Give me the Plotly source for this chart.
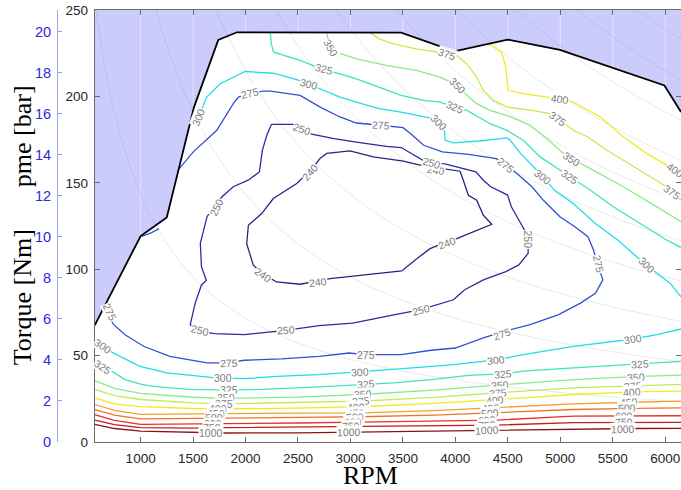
import numpy as np
import plotly.graph_objects as go

# ---------------- axes / ticks ----------------
rpm_range = [562, 6151]
torque_range = [0, 250]
x_ticks = [1000, 1500, 2000, 2500, 3000, 3500, 4000, 4500, 5000, 5500, 6000]
y_ticks = [0, 50, 100, 150, 200, 250]
pme_ticks = [0, 2, 4, 6, 8, 10, 12, 14, 16, 18, 20]
displacement_l = 1.492          # engine displacement used for pme axis
power_levels_kw = [15, 30, 45, 60, 75, 90, 105, 120, 135, 150]

# ---------------- full-load (max torque) curve ----------------
max_rpm = [562, 1000, 1249, 1509, 1740, 1918, 3484, 3990, 4498, 4997, 5993, 6151]
max_nm = [67.5, 119.2, 130.0, 193.8, 232.7, 237.1, 236.9, 226.1, 232.9, 226.9, 206.3, 191.0]

# ---------------- BSFC contours [g/kWh] ----------------
c240_rpm = [2710, 2774, 2996, 3218, 3504, 3664, 3850, 4045, 4076, 4124, 4204, 4267, 4347, 4013, 3880, 3759,
            3632, 3489, 2806, 2650, 2520, 2297, 2170, 2074, 2011, 2027, 2154, 2265, 2488, 2580, 2663, 2710]
c240_nm = [164.1, 167.0, 168.5, 165.0, 162.5, 160.2, 158.5, 156.7, 151.5, 142.8, 139.9, 131.2, 126.0, 117.7, 115.0, 111.9,
           106.1, 99.0, 94.6, 93.0, 91.3, 92.6, 97.0, 102.3, 114.8, 125.4, 132.2, 140.9, 149.6, 155.0, 160.2, 164.1]

c250_rpm = [2246, 2452, 2630, 2844, 3057, 3342, 3484, 3609, 3716, 3911, 4196, 4267, 4338, 4498, 4534, 4605, 4659,
            4694, 4694, 4605, 4481, 4267, 4089, 3982, 3876, 3662, 3413, 3022, 2701, 2381, 1989, 1705, 1562, 1473,
            1520, 1580, 1626, 1580, 1569, 1633, 1698, 1776, 1883, 2025, 2132, 2160, 2203, 2246]
c250_nm = [183.8, 183.8, 178.1, 175.6, 173.6, 171.1, 170.4, 165.9, 162.1, 160.8, 156.3, 151.5, 147.7, 142.9, 136.1,
           128.5, 122.7, 115.0, 109.2, 102.5, 98.6, 93.8, 88.1, 82.3, 80.4, 76.5, 73.6, 68.8, 67.3, 64.6, 62.1, 62.7,
           64.0, 67.9, 80.4, 90.9, 93.5, 101.5, 115.0, 130.4, 136.1, 141.9, 147.7, 151.5, 156.3, 168.8, 177.5, 183.8]

c275_rpm = [1356, 1502, 1726, 1883, 1932, 2043, 2171, 2239, 2520, 2712, 2900, 3057, 3288, 3413, 3502, 3591, 3698,
            3876, 4125, 4392, 4481, 4587, 4730, 4837, 4997, 5139, 5264, 5317, 5353, 5406, 5335, 5193, 4979, 4712,
            4463, 4267, 4000, 3769, 3484, 3146, 2986, 2701, 2345, 1989, 1829, 1633, 1278, 1028, 851, 744, 644]
c275_nm = [157.3, 167.9, 180.4, 195.8, 199.6, 201.8, 203.1, 203.1, 200.6, 193.8, 188.1, 184.6, 183.3, 182.3, 181.9,
           177.5, 171.7, 167.9, 166.5, 164.0, 160.2, 155.4, 147.7, 140.0, 130.4, 124.6, 118.8, 111.1, 103.5, 93.8,
           86.1, 80.4, 73.6, 67.9, 64.0, 60.2, 54.4, 53.1, 50.6, 50.6, 51.5, 49.6, 48.1, 47.3, 45.8, 45.8, 49.6,
           55.4, 62.1, 67.9, 77.1]
c275b_rpm = [1010, 1100, 1175]
c275b_nm = [119.0, 121.0, 123.5]

c300a_rpm = [1470, 1584, 1630, 1758, 1996, 2267, 2520, 2712, 2901, 3057, 3271, 3484, 3698, 3787, 3894, 3904, 3982,
             4232, 4492, 4523, 4623, 4744, 4837, 4943, 5121, 5335, 5548, 5691, 5798, 5922, 6047, 6151]
c300a_nm = [184.0, 192.9, 199.6, 207.3, 214.4, 213.4, 209.2, 204.4, 199.6, 196.7, 192.9, 190.9, 188.4, 187.1, 180.4,
            174.6, 173.1, 174.2, 176.0, 174.6, 166.9, 159.2, 153.5, 145.8, 138.1, 126.5, 116.9, 109.2, 103.5, 97.7,
            91.9, 84.0]
c300b_rpm = [562, 644, 772, 993, 1249, 1690, 1989, 2345, 2701, 3057, 3591, 3982, 4410, 4648, 5125, 5698, 5922, 6151]
c300b_nm = [57.8, 54.6, 50.6, 43.8, 40.0, 37.3, 36.7, 38.1, 39.0, 40.4, 42.9, 44.8, 47.7, 50.6, 55.4, 59.6, 62.1, 65.4]

c325a_rpm = [2235, 2246, 2267, 2520, 2747, 2901, 3057, 3271, 3484, 3698, 3854, 3996, 4111, 4331, 4492, 4648, 4808,
             5000, 5096, 5285, 5505, 5762, 6015, 6151]
c325a_nm = [237.0, 230.4, 225.6, 220.8, 215.4, 213.1, 210.2, 205.4, 200.6, 197.7, 196.7, 193.8, 191.9, 184.2, 180.4,
            174.6, 165.0, 157.3, 153.5, 145.8, 136.1, 126.5, 116.9, 112.5]
c325b_rpm = [562, 677, 851, 1000, 1100, 1456, 1840, 2167, 2701, 3146, 3413, 3769, 4125, 4459, 4648, 5125, 5762, 6151]
c325b_nm = [44.8, 42.9, 36.1, 33.5, 32.3, 30.4, 30.0, 30.4, 31.9, 33.3, 34.2, 36.1, 38.5, 39.4, 41.0, 42.9, 45.4, 46.7]

c350a_rpm = [2772, 2790, 2840, 2915, 3057, 3342, 3627, 3854, 4029, 4111, 4203, 4331, 4516, 4712, 4890, 5015, 5111,
             5253, 5602, 5922, 6151]
c350a_nm = [236.9, 232.3, 227.0, 224.6, 221.7, 217.9, 215.0, 211.1, 206.3, 200.6, 195.8, 191.9, 188.4, 183.3, 174.6,
            167.9, 164.0, 159.2, 147.7, 136.1, 127.5]

c375a_rpm = [3189, 3271, 3413, 3626, 3822, 3918, 4014, 4110, 4203, 4267, 4363, 4491, 4730, 4904, 4982, 5125, 5263,
             5445, 5762, 6014, 6064, 6151]
c375a_nm = [236.9, 233.3, 230.4, 227.5, 225.6, 224.6, 223.6, 218.8, 211.1, 203.4, 197.7, 193.8, 191.9, 190.0, 187.1,
            180.4, 176.5, 168.8, 157.3, 147.7, 144.8, 140.0]

c400a_rpm = [4317, 4441, 4480, 4505, 4658, 5000, 5125, 5381, 5602, 5826, 6014, 6093, 6151]
c400a_nm = [230.5, 225.6, 216.9, 203.4, 201.5, 198.6, 196.7, 188.1, 176.5, 166.9, 160.2, 157.3, 154.4]

low_rpm = [562, 750, 1000, 1500, 1800, 2500, 3100, 3800, 4400, 5125, 5700, 6151]
c350b_nm = [35.5, 31.0, 28.1, 25.9, 25.2, 26.0, 27.5, 30.0, 32.9, 36.1, 37.8, 38.7]
c375b_nm = [30.5, 26.8, 24.6, 22.6, 22.1, 22.8, 23.6, 25.8, 28.5, 31.3, 32.4, 33.3]
c400b_nm = [25.5, 22.0, 20.5, 19.4, 19.2, 19.6, 20.4, 22.3, 24.6, 27.5, 29.0, 29.4]
c450_nm = [21.7, 18.3, 16.0, 16.0, 16.4, 16.7, 16.9, 18.2, 19.8, 22.1, 23.0, 23.6]
c500_nm = [18.8, 15.5, 13.4, 13.4, 13.8, 14.2, 14.6, 15.6, 16.9, 18.8, 19.5, 19.8]
c600_nm = [15.9, 12.5, 10.2, 10.4, 10.7, 11.0, 11.5, 12.0, 12.7, 15.0, 15.1, 15.2]
c750_nm = [12.7, 10.0, 8.3, 8.0, 8.3, 8.6, 9.1, 9.5, 9.8, 11.2, 11.3, 11.4]
c1000_nm = [10.2, 7.8, 6.3, 5.6, 5.2, 5.3, 5.8, 6.3, 6.9, 7.7, 7.8, 7.9]

# ---------------- contour labels ----------------
label_level = [240, 240, 240, 240, 240,
               250, 250, 250, 250, 250, 250, 250,
               275, 275, 275, 275, 275, 275, 275, 275,
               300, 300, 300, 300, 300, 300, 300, 300, 300, 300,
               325, 325, 325, 325, 325, 325, 325, 325,
               350, 350, 350, 350, 350, 350, 350,
               375, 375, 375, 375, 375, 375, 375,
               400, 400, 400, 400, 400, 400,
               450, 450, 450, 450,
               500, 500, 500, 500,
               600, 600, 600, 600,
               750, 750, 750, 750,
               1000, 1000, 1000, 1000]
label_rpm = [2615, 3816, 3918, 2694, 2170,
             2536, 3781, 4696, 3669, 2381, 1562, 1722,
             2043, 3288, 4480, 5363, 4442, 3146, 1840, 708,
             1550, 2609, 3840, 4836, 5826, 5690, 4392, 3093, 1786, 640,
             2748, 3996, 5096, 5762, 4456, 3146, 1840, 640,
             2815, 4028, 5110, 5726, 4427, 3121, 1818,
             3918, 4982, 6064, 5690, 4409, 3100, 1794,
             5000, 6093, 5683, 4374, 3057, 1740,
             5655, 4338, 3057, 1715,
             5637, 4331, 3039, 1700,
             5612, 4303, 3021, 1690,
             5612, 4303, 3004, 1680,
             5601, 4303, 2986, 1669]
label_nm = [156.3, 157.5, 115.2, 92.6, 96.5,
            180.9, 161.7, 117.0, 76.5, 64.6, 64.6, 136.1,
            201.7, 183.3, 160.2, 102.8, 62.7, 50.6, 45.6, 75.2,
            188.2, 207.3, 185.2, 153.5, 102.5, 59.5, 47.5, 40.6, 37.0, 55.5,
            215.6, 193.8, 153.5, 45.4, 39.4, 33.3, 30.0, 43.5,
            228.1, 206.3, 164.0, 37.8, 33.0, 27.5, 25.2,
            224.6, 187.1, 144.5, 32.4, 28.5, 23.6, 22.1,
            198.6, 157.3, 28.9, 24.5, 20.3, 19.2,
            22.9, 19.6, 16.9, 16.3,
            19.4, 16.8, 14.5, 13.7,
            15.1, 12.6, 11.4, 10.6,
            11.3, 9.7, 9.0, 8.2,
            7.8, 6.8, 5.7, 5.4]
label_angle = [-48, 8, -21, -6, 35,
               20, 16, 90, -15, -4, 15, -65,
               -13, 4, 40, 78, -20, 0, -2, 65,
               -68, 15, 45, 38, 45, -8, -6, -3, 0, 35,
               15, 22, 35, -3, -5, -3, 0, 35,
               60, 45, 35, -3, -5, -3, 0,
               18, 35, 35, -4, -5, -3, 0,
               8, 35, -4, -5, -3, 0,
               -3, -4, -2, 0,
               -2, -4, -2, 0,
               -2, -4, -2, 0,
               -2, -3, -2, 0,
               -1, -3, -1, 0]

# ---------------- styles ----------------
level_colors = {240: "#262680", 250: "#2b2b9e", 275: "#3050d6", 300: "#22dcea", 325: "#3ee4bc",
                350: "#88ec86", 375: "#c2ec4e", 400: "#f0ea22", 450: "#f4a02c", 500: "#f07428",
                600: "#e8322a", 750: "#c21c1c", 1000: "#8a1414"}

pieces = [
    (240, c240_rpm, c240_nm), (250, c250_rpm, c250_nm),
    (275, c275_rpm, c275_nm), (275, c275b_rpm, c275b_nm),
    (300, c300a_rpm, c300a_nm), (300, c300b_rpm, c300b_nm),
    (325, c325a_rpm, c325a_nm), (325, c325b_rpm, c325b_nm),
    (350, c350a_rpm, c350a_nm), (350, low_rpm, c350b_nm),
    (375, c375a_rpm, c375a_nm), (375, low_rpm, c375b_nm),
    (400, c400a_rpm, c400a_nm), (400, low_rpm, c400b_nm),
    (450, low_rpm, c450_nm), (500, low_rpm, c500_nm), (600, low_rpm, c600_nm),
    (750, low_rpm, c750_nm), (1000, low_rpm, c1000_nm),
]

nm_per_bar = displacement_l * 1e-3 * 1e5 / (4 * np.pi)
pme_range = [torque_range[0] / nm_per_bar, torque_range[1] / nm_per_bar]

fig = go.Figure()

# shaded region above full-load curve
fig.add_trace(go.Scatter(
    x=[rpm_range[0]] + max_rpm + [rpm_range[1], rpm_range[0]],
    y=[torque_range[1]] + max_nm + [torque_range[1], torque_range[1]],
    fill="toself", fillcolor="rgb(204,204,252)", mode="lines",
    line=dict(width=0), hoverinfo="skip", showlegend=False))

# light vertical grid (visible over the shaded region)
gx, gy = [], []
for v in x_ticks:
    gx += [v, v, None]
    gy += [torque_range[0], torque_range[1], None]
fig.add_trace(go.Scatter(x=gx, y=gy, mode="lines",
                         line=dict(color="rgba(255,255,255,0.45)", width=1),
                         hoverinfo="skip", showlegend=False))

# iso-power lines
n = np.linspace(rpm_range[0], rpm_range[1], 300)
px, py = [], []
for p in power_levels_kw:
    px += list(n) + [None]
    py += list(9549.3 * p / n) + [None]
fig.add_trace(go.Scatter(x=px, y=py, mode="lines",
                         line=dict(color="rgba(110,110,120,0.15)", width=1),
                         hoverinfo="skip", showlegend=False))

# BSFC contour lines
for lvl, xs, ys in pieces:
    fig.add_trace(go.Scatter(x=xs, y=ys, mode="lines",
                             line=dict(color=level_colors[lvl], width=1.3),
                             hoverinfo="skip", showlegend=False))

# full-load line
fig.add_trace(go.Scatter(x=max_rpm, y=max_nm, mode="lines",
                         line=dict(color="black", width=1.8),
                         hoverinfo="skip", showlegend=False))

# invisible trace to carry the pme axis
fig.add_trace(go.Scatter(x=rpm_range, y=pme_range, yaxis="y2", mode="markers",
                         marker=dict(opacity=0), hoverinfo="skip", showlegend=False))

# contour labels
for lvl, xr, yn, ang in zip(label_level, label_rpm, label_nm, label_angle):
    fig.add_annotation(x=xr, y=yn, xref="x", yref="y", text=str(lvl), showarrow=False,
                       textangle=ang, font=dict(family="Liberation Sans, Arial", size=10.5,
                                                color="rgb(125,125,125)"),
                       bgcolor="rgba(255,255,255,0.95)", borderpad=0)

serif = "Liberation Serif, Times New Roman, serif"
sans = "Liberation Sans, Arial, sans-serif"

fig.add_annotation(text="RPM", xref="paper", yref="paper", x=0.5024, y=-0.077,
                   showarrow=False, xanchor="center", yanchor="middle",
                   font=dict(family=serif, size=26, color="black"))
fig.add_annotation(text="Torque [Nm]", xref="paper", yref="paper", x=0, y=0.335,
                   showarrow=False, xanchor="center", yanchor="middle", xshift=-35,
                   textangle=-90, font=dict(family=serif, size=26, color="black"))
fig.add_annotation(text="pme [bar]", xref="paper", yref="paper", x=0, y=0.708,
                   showarrow=False, xanchor="center", yanchor="middle", xshift=-35,
                   textangle=-90, font=dict(family=serif, size=26, color="black"))

axis_col = "#6a6a6a"
fig.update_layout(
    width=681, height=490, autosize=False,
    margin=dict(l=57, r=0, t=10, b=48, pad=0),
    paper_bgcolor="white", plot_bgcolor="white",
    showlegend=False,
    xaxis=dict(range=rpm_range, domain=[0.0604, 1], tickvals=x_ticks,
               ticks="inside", ticklen=5, tickcolor=axis_col, showline=True, linecolor=axis_col,
               linewidth=1, mirror="ticks", showgrid=False, zeroline=False,
               tickfont=dict(family=sans, size=13.5, color="#262626"),
               ticklabelstandoff=4, automargin=False),
    yaxis=dict(range=torque_range, tickvals=y_ticks, ticks="inside", ticklen=5,
               tickcolor=axis_col, showline=True, linecolor=axis_col, linewidth=1,
               mirror="ticks", showgrid=False, zeroline=False,
               tickfont=dict(family=sans, size=13.5, color="#262626"),
               ticklabelstandoff=3, automargin=False),
    yaxis2=dict(range=pme_range, overlaying="y", anchor="free", position=0, side="left",
                tickvals=pme_ticks, ticks="inside", ticklen=4, tickcolor="rgb(150,150,235)",
                showline=True, linecolor="rgb(160,160,235)", linewidth=1, showgrid=False,
                zeroline=False, tickfont=dict(family=sans, size=14.5, color="#2a2ae0"),
                ticklabelstandoff=3, automargin=False),
)

fig.write_html("out.html", config={"displayModeBar": False},
               post_script="document.body.style.margin='0';document.body.style.overflow='hidden';")
